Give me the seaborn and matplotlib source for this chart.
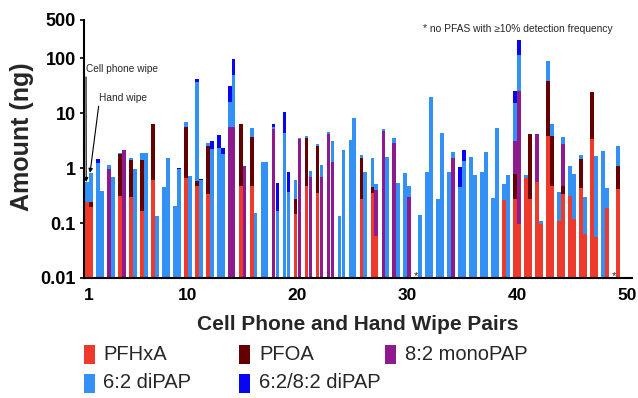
import numpy as np
import pandas as pd
import matplotlib
matplotlib.use("Agg")
import matplotlib.pyplot as plt
from matplotlib.patches import Rectangle
from matplotlib.ticker import FixedLocator, NullLocator, FixedFormatter
import seaborn as sns

# ---------------- data (ng) ----------------
pairs = list(range(1, 51))
compounds = ["PFHxA", "PFOA", "8:2 monoPAP", "6:2 diPAP", "6:2/8:2 diPAP"]
colors = ["#EE3A2C", "#650000", "#8D1A8F", "#3390F4", "#0606F2"]

cell_pfhxa = [0.245, 0, 0, 0.31, 0.30, 0.166, 0.6, 0, 0, 0.67,
              0.48, 0.34, 0, 0, 0.47, 0.47, 0, 0, 0, 0.148,
              0.465, 0.355, 0, 0, 0, 0.27, 0.36, 0, 0, 0,
              0, 0, 0, 0, 0, 0, 0, 0, 0.262, 0.27,
              0.65, 0.56, 3.8, 0.11, 0.31, 0.435, 3.37, 0, 0, 0]
cell_pfoa = [0, 0, 0, 1.49, 1.12, 1.23, 5.9, 0, 0, 4.93,
             0.11, 2.24, 0, 0, 5.93, 3.18, 0, 0, 0, 0.122,
             3.09, 2.23, 0, 0, 0, 1.25, 0.10, 0, 0, 0,
             0, 0, 0, 0, 0, 0, 0, 0, 0, 0.50,
             0, 0, 34.2, 0, 0, 1.03, 21.0, 0, 0, 0]
cell_monopap = [0, 0, 0.95, 0, 0, 0, 0, 0, 0, 0,
                0, 0, 0, 5.6, 0, 0, 0, 5.1, 0, 0,
                0, 0, 4.27, 0, 0, 0, 0, 4.7, 2.88, 0,
                0, 0, 0, 0, 0, 0, 0, 0, 0, 2.31,
                0, 3.59, 0, 0, 0, 0, 0, 0, 0, 0]
cell_dipap62 = [0.305, 1.22, 0.17, 0.13, 0.13, 0.53, 0, 0.45, 0.204, 1.25,
                36.4, 0.30, 2.37, 10.4, 0, 1.7, 1.3, 0.55, 4.45, 0.35,
                0.25, 0.15, 0.33, 0.134, 3.23, 0.23, 1.10, 0.4, 0.67, 0.82,
                0, 0.86, 0.27, 0.87, 0.45, 1.63, 0.87, 0.29, 0.258, 12.2,
                0.09, 0, 52, 0.26, 0.78, 0.31, 0, 2.06, 0, 0]
cell_dipap6282 = [0, 0.22, 0, 0, 0, 0, 0, 0, 0, 0,
                  5.6, 0, 1.61, 15, 0, 0, 0, 0.85, 5.95, 0,
                  0, 0, 0, 0, 0, 0, 0, 0, 0, 0,
                  0, 0, 0, 0, 0.61, 0, 0, 0, 0, 10.4,
                  0, 0, 0, 0, 0, 0, 0, 0, 0, 0]

hand_pfhxa = [0.2, 0, 0, 0, 0, 0, 0, 0, 0, 0,
              0, 0, 0, 0, 0, 0, 0, 0, 0, 0,
              0, 0, 0, 0, 0, 0, 0.058, 0, 0, 0,
              0, 0, 0, 0, 0, 0, 0, 0, 0, 0.095,
              0.27, 0.095, 0.48, 0.34, 0.118, 0.062, 0.055, 0.185, 0.415, 0]
hand_pfoa = [0.045, 0, 0, 0, 0, 0, 0, 0, 0, 0,
             0, 0, 0, 0, 0, 0, 0, 0, 0, 0,
             0, 0, 0, 0, 0, 0, 0, 0, 0, 0,
             0, 0, 0, 0, 0, 0, 0, 0, 0, 0,
             3.88, 0, 3.32, 0.13, 0, 0, 0, 0, 0.675, 0]
hand_monopap = [0, 0, 0, 2.17, 0, 0, 0, 0, 0, 0,
                0, 0, 0, 5.6, 1.09, 0, 0, 0, 0, 3.35,
                0.69, 0.68, 1.29, 0, 0, 0, 0.342, 0, 0, 0.30,
                0, 0, 0, 1.56, 0, 0, 0, 0, 0, 25.9,
                0, 0, 0, 2.33, 0, 0, 0, 0, 0, 0]
hand_dipap62 = [0.565, 0.39, 0.69, 0, 0.95, 1.9, 0.134, 1.52, 0.97, 0.72,
                0.61, 2.2, 1.85, 43.4, 0, 0.15, 1.27, 0.167, 0.375, 0.2,
                0.195, 0.48, 1.83, 2.12, 8.1, 0.84, 0.11, 1.62, 0.54, 0.17,
                0.142, 19.5, 4.45, 0.39, 1.36, 0.74, 1.95, 5.4, 0.76, 87,
                0, 0.015, 2.7, 0.9, 0.662, 0.238, 1.585, 0.245, 1.41, 0]
hand_dipap6282 = [0, 0, 0, 0, 0, 0, 0, 0, 0.05, 0,
                  0.03, 0.93, 0.5, 50, 0, 0, 0, 0.373, 0.485, 0,
                  0, 0, 0, 0, 0, 0, 0, 0, 0, 0,
                  0, 0.5, 0, 0, 0.76, 0, 0, 0, 0, 104,
                  0, 0, 0, 0, 0, 0, 0, 0, 0, 0]

no_pfas_cell = [31, 49]  # pairs marked with *

cell = [cell_pfhxa, cell_pfoa, cell_monopap, cell_dipap62, cell_dipap6282]
hand = [hand_pfhxa, hand_pfoa, hand_monopap, hand_dipap62, hand_dipap6282]

# ---------------- build stacked (cumulative) table ----------------
rows = []
for offset, arrs in [(-0.18, cell), (0.18, hand)]:
    stack = np.cumsum(np.array(arrs, dtype=float), axis=0)
    for k, comp in enumerate(compounds):
        for j, p in enumerate(pairs):
            if arrs[k][j] > 0:
                rows.append({"x": round(p + offset, 2), "top": stack[k][j], "layer": comp})
df = pd.DataFrame(rows)

# ---------------- figure ----------------
sns.set_style("ticks")
plt.rcParams["font.family"] = ["Liberation Sans", "DejaVu Sans"]

W, H = 638, 398
fig = plt.figure(figsize=(W / 100, H / 100), dpi=100)
ax = fig.add_axes([84 / W, 1 - 278 / H, (632 - 84) / W, (278 - 20) / H])

sns.barplot(data=df, x="x", y="top", hue="layer", hue_order=compounds[::-1],
            palette=dict(zip(compounds, colors)), native_scale=True, dodge=False,
            width=0.98, errorbar=None, legend=False, saturation=1,
            linewidth=0, ax=ax)

ax.set_yscale("log")
ax.set_ylim(0.01, 500)
ax.set_xlim(0.57, 50.44)

ax.yaxis.set_major_locator(FixedLocator([0.01, 0.1, 1, 10, 100, 500]))
ax.yaxis.set_major_formatter(FixedFormatter(["0.01", "0.1", "1", "10", "100", "500"]))
ax.yaxis.set_minor_locator(NullLocator())
ax.set_xticks([1, 10, 20, 30, 40, 50])
ax.set_xticklabels(["1", "10", "20", "30", "40", "50"])

for s in ["top", "right"]:
    ax.spines[s].set_visible(False)
for s in ["left", "bottom"]:
    ax.spines[s].set_linewidth(1.5)
    ax.spines[s].set_color("black")

ax.tick_params(axis="y", length=3, width=1.2, pad=3, labelsize=13, colors="black")
ax.tick_params(axis="x", length=0, pad=7, labelsize=12.5, colors="black")
for lab in ax.get_xticklabels() + ax.get_yticklabels():
    lab.set_fontweight("bold")

ax.set_xlabel("")
ax.set_ylabel("")
fig.text(22 / W, 1 - 137 / H, "Amount (ng)", rotation=90, ha="center", va="center",
         fontsize=18, fontweight="bold")
fig.text(358 / W, 1 - 325 / H, "Cell Phone and Hand Wipe Pairs", ha="center",
         va="center", fontsize=15, fontweight="bold")

# stars
for p in no_pfas_cell:
    ax.annotate("*", xy=(p - 0.18, 0.01), xytext=(0, -1), textcoords="offset points",
                ha="center", va="baseline", fontsize=8)

# note
ax.text(0.619, 0.964, "* no PFAS with \u226510% detection frequency",
        transform=ax.transAxes, ha="left", va="center", fontsize=7.4)

# arrows
ax.annotate("Cell phone wipe", xy=(0.77, 0.56), xytext=(0.754, 65),
            ha="left", va="center", fontsize=7.3,
            arrowprops=dict(arrowstyle="-|>", color="black", lw=0.8,
                            shrinkA=0, shrinkB=0, mutation_scale=6, relpos=(0, 0)))
ax.annotate("Hand wipe", xy=(1.12, 0.82), xytext=(1.94, 19),
            ha="left", va="center", fontsize=7.3,
            arrowprops=dict(arrowstyle="-|>", color="black", lw=0.8,
                            shrinkA=0, shrinkB=0, mutation_scale=6, relpos=(0, 0)))

# legend (manual, 2 rows x 3 columns)
patch_x = [84, 239, 385]
text_x = [103, 259, 405]
row_y = [354, 383]
layout = [("PFHxA", 0, 0), ("PFOA", 1, 0), ("8:2 monoPAP", 2, 0),
          ("6:2 diPAP", 0, 1), ("6:2/8:2 diPAP", 1, 1)]
cmap = dict(zip(compounds, colors))
for lab, c, r in layout:
    yc = row_y[r]
    fig.add_artist(Rectangle((patch_x[c] / W, 1 - (yc + 9.5) / H), 11 / W, 19 / H,
                             transform=fig.transFigure, facecolor=cmap[lab],
                             edgecolor="none"))
    fig.text(text_x[c] / W, 1 - yc / H, lab, ha="left", va="center", fontsize=14.5)

fig.savefig("out.png", dpi=100)
